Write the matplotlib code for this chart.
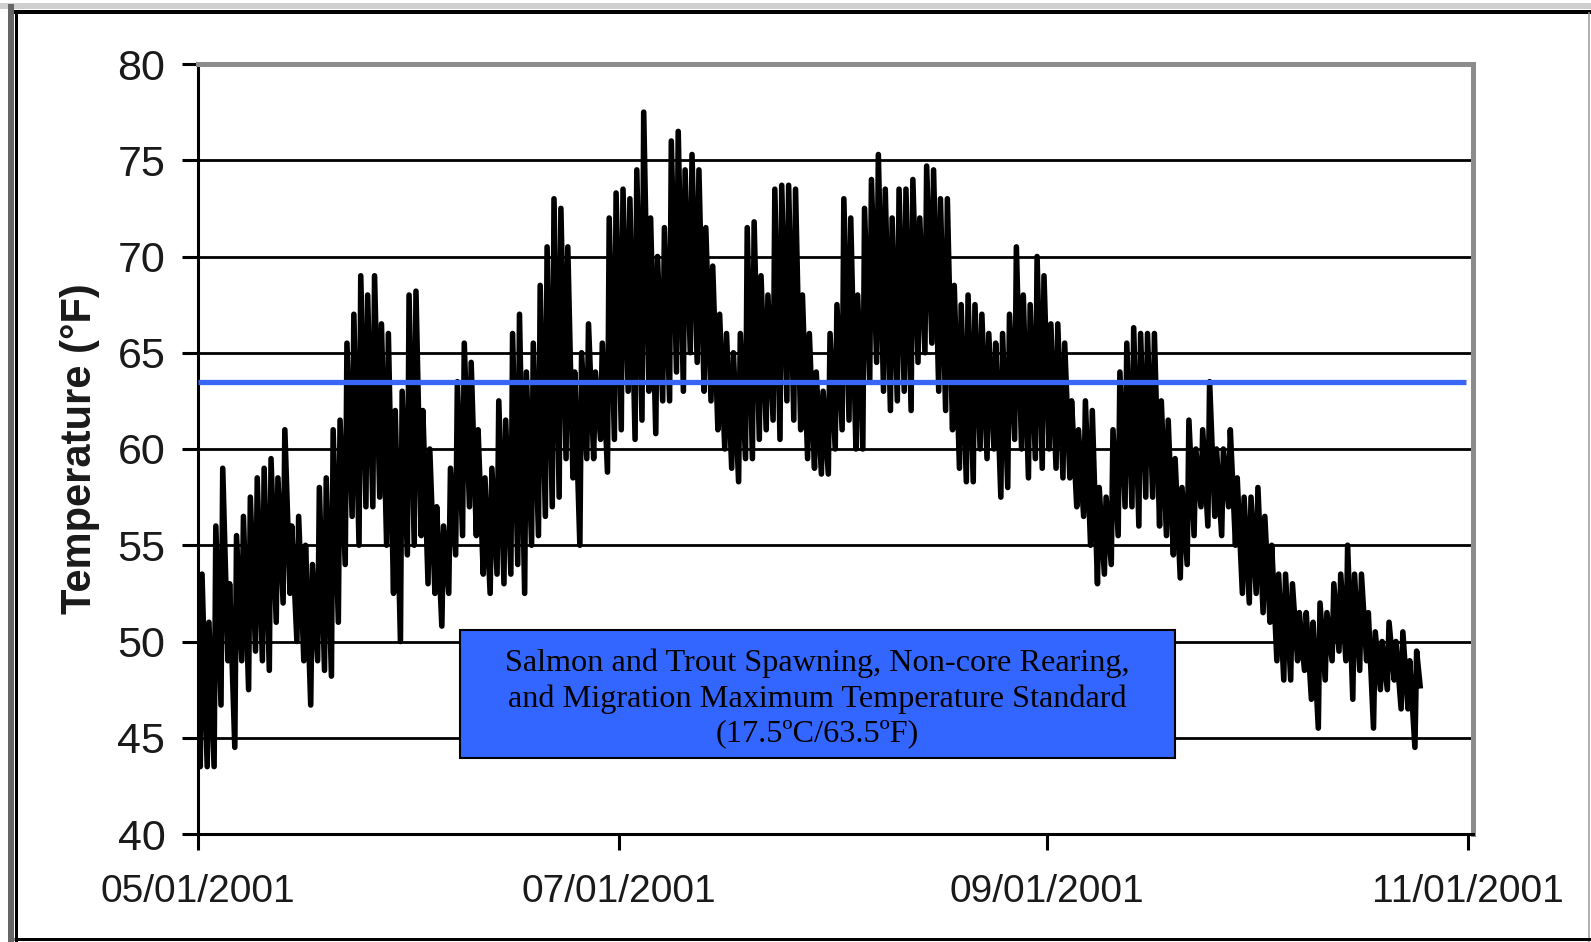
import matplotlib
matplotlib.use("Agg")
import matplotlib.pyplot as plt
import matplotlib.dates as mdates
from matplotlib.patches import Rectangle
import pandas as pd

# daily max / min water temperature (F), 05/01/2001 onward
start_day = "2001-05-01"
first_value = 48.0
last_value = 47.7

daily_max = [
    # May
    53.5, 51.0, 56.0, 59.0, 53.0, 55.5, 56.5, 57.5, 58.5, 59.0,
    59.5, 58.5, 61.0, 56.0, 56.5, 55.0, 54.0, 58.0, 58.5, 61.0,
    61.5, 65.5, 67.0, 69.0, 68.0, 69.0, 66.5, 66.0, 62.0, 63.0, 68.0,
    # June
    68.2, 62.0, 60.0, 57.0, 56.0, 59.0, 63.5, 65.5, 64.5, 61.0,
    58.5, 59.0, 62.5, 61.5, 66.0, 67.0, 64.0, 65.5, 68.5, 70.5,
    73.0, 72.5, 70.5, 64.0, 65.0, 66.5, 64.0, 65.5, 72.0, 73.3,
    # July
    73.5, 73.0, 74.5, 77.5, 72.0, 70.0, 71.5, 76.0, 76.5, 74.5,
    75.3, 74.5, 71.5, 69.5, 67.0, 66.0, 65.0, 66.0, 71.5, 71.8,
    69.0, 68.0, 73.5, 73.7, 73.7, 73.5, 68.0, 66.0, 64.0, 63.0, 66.0,
    # August
    67.5, 73.0, 72.0, 68.0, 72.5, 74.0, 75.3, 73.5, 72.0, 73.5,
    73.5, 74.0, 72.0, 74.7, 74.5, 73.0, 73.0, 68.5, 67.5, 68.0,
    67.5, 67.0, 66.0, 65.5, 66.0, 67.0, 70.5, 68.0, 67.5, 70.0, 69.0,
    # September
    66.5, 66.5, 65.5, 62.5, 61.0, 62.5, 62.0, 58.0, 57.5, 61.0,
    64.0, 65.5, 66.3, 66.0, 66.0, 66.0, 62.5, 61.5, 59.5, 58.0,
    61.5, 60.0, 61.0, 63.5, 60.0, 60.0, 61.0, 58.5, 57.5, 57.5,
    # October
    58.0, 56.5, 55.0, 53.5, 53.5, 53.0, 51.5, 51.5, 51.0, 52.0,
    51.5, 53.0, 53.5, 55.0, 53.5, 53.5, 51.5, 50.5, 50.0, 51.0,
    50.0, 50.5, 49.0, 49.5,
]

daily_min = [
    # May
    43.5, 43.5, 43.5, 46.7, 49.0, 44.5, 49.0, 47.5, 49.5, 49.0,
    48.5, 51.0, 52.0, 52.5, 50.0, 49.0, 46.7, 49.0, 48.5, 48.2,
    51.0, 54.0, 56.5, 55.0, 57.0, 57.0, 57.5, 55.0, 52.5, 50.0, 54.5,
    # June
    55.0, 55.5, 53.0, 52.5, 50.8, 52.5, 54.5, 55.5, 57.0, 55.5,
    53.5, 52.5, 53.5, 53.0, 53.5, 54.0, 52.5, 55.0, 55.5, 56.5,
    57.0, 57.5, 59.5, 58.5, 55.0, 59.5, 59.5, 60.5, 58.8, 60.5,
    # July
    61.0, 63.0, 60.5, 61.5, 63.0, 60.8, 62.5, 62.5, 64.0, 63.0,
    65.0, 64.5, 63.0, 62.5, 61.0, 60.0, 59.0, 58.3, 59.5, 59.5,
    60.5, 61.0, 61.5, 60.5, 62.5, 61.5, 61.0, 59.5, 59.0, 58.7, 58.7,
    # August
    60.0, 61.0, 61.5, 60.0, 60.0, 63.5, 64.5, 63.0, 62.0, 62.5,
    63.0, 62.0, 64.5, 65.0, 65.5, 63.0, 62.0, 61.0, 59.0, 58.3,
    58.3, 60.0, 59.5, 60.0, 57.5, 58.0, 60.5, 60.0, 58.5, 59.5, 59.0,
    # September
    60.0, 59.0, 58.5, 58.5, 57.0, 56.5, 55.0, 53.0, 53.5, 54.0,
    55.5, 57.0, 57.0, 56.0, 57.5, 57.5, 56.0, 55.5, 54.5, 53.3,
    54.0, 55.5, 57.0, 56.0, 56.5, 55.5, 57.0, 55.0, 52.5, 52.0,
    # October
    52.5, 51.5, 51.0, 49.0, 48.0, 48.0, 49.0, 48.5, 47.0, 45.5,
    48.0, 49.0, 49.5, 49.0, 47.0, 48.5, 49.0, 45.5, 47.5, 47.5,
    48.0, 46.5, 46.5, 44.5,
]

standard_f = 63.5
standard_end = "2001-10-31 18:00"
x_ticks = ["2001-05-01", "2001-07-01", "2001-09-01", "2001-11-01"]
y_ticks = [40, 45, 50, 55, 60, 65, 70, 75, 80]
box_text = ("Salmon and Trout Spawning, Non-core Rearing,\n"
            "and Migration Maximum Temperature Standard\n"
            "(17.5\u00baC/63.5\u00baF)")

# zigzag: min in the morning, max mid afternoon
t0 = pd.Timestamp(start_day)
times = [t0]
temps = [first_value]
for d, (hi, lo) in enumerate(zip(daily_max, daily_min)):
    times.append(t0 + pd.Timedelta(days=d, hours=8))
    temps.append(lo)
    times.append(t0 + pd.Timedelta(days=d, hours=14))
    temps.append(hi)
times.append(t0 + pd.Timedelta(days=len(daily_max), hours=2))
temps.append(last_value)

W, H = 1591, 942
fig = plt.figure(figsize=(W / 100, H / 100), dpi=100)
ax = fig.add_axes([198 / W, 1 - 834 / H, (1473 - 198) / W, (834 - 64) / H])

for y in y_ticks[1:-1]:
    ax.axhline(y, color="black", lw=2.0, zorder=1)

ax.plot(times, temps, color="black", lw=4.0, zorder=2)
ax.plot([t0, pd.Timestamp(standard_end)], [standard_f, standard_f],
        color="#3a66f5", lw=3.8, solid_capstyle="butt", zorder=3)

ax.set_ylim(40, 80)
ax.set_xlim(t0, pd.Timestamp("2001-11-01 18:00"))
ax.set_yticks(y_ticks)
ax.set_xticks([pd.Timestamp(t) for t in x_ticks])
ax.xaxis.set_major_formatter(mdates.DateFormatter("%m/%d/%Y"))

for side in ["left", "bottom"]:
    ax.spines[side].set_linewidth(2.2)
    ax.spines[side].set_color("black")
for side in ["top", "right"]:
    ax.spines[side].set_linewidth(3.6)
    ax.spines[side].set_color("#8c8c8c")

ax.tick_params(direction="out", length=11.5, width=2.2, color="black",
               labelcolor="#1a1a1a")
ax.tick_params(axis="y", pad=12, labelsize=31)
ax.tick_params(axis="x", pad=17.5, labelsize=28)
for lab in ax.get_xticklabels() + ax.get_yticklabels():
    lab.set_family("Liberation Sans")

ax.set_ylabel("Temperature (\u00b0F)", fontsize=30, fontweight="bold",
              family="Liberation Sans", color="#1a1a1a")
ax.yaxis.set_label_coords(-0.0765, 0.5)

# standard box
px_per_day = (1468 - 198) / 184
x0n = mdates.date2num(t0 + pd.Timedelta(days=(460 - 198) / px_per_day))
x1n = mdates.date2num(t0 + pd.Timedelta(days=(1175 - 198) / px_per_day))
ax.add_patch(Rectangle((x0n, 43.95), x1n - x0n, 6.65, facecolor="#3366ff",
                       edgecolor="black", lw=1.5, zorder=4))
ax.text((x0n + x1n) / 2, 47.04, box_text, ha="center", va="center",
        fontsize=23.2, family="Liberation Serif", linespacing=1.26, zorder=5)

# outer frame
def px_line(xs, ys, color, lw):
    fig.add_artist(plt.Line2D([x / W for x in xs], [1 - y / H for y in ys],
                              transform=fig.transFigure, color=color,
                              lw=lw * 0.72, solid_capstyle="butt"))

px_line([0, W], [6, 6], "#cfcfcf", 6)
px_line([11, 11], [4, H], "#666666", 6)
px_line([15.5, 15.5], [12, H], "black", 3)
px_line([14, W], [12, 12], "black", 4)
px_line([1589, 1589], [12, H], "#999999", 1.5)
px_line([14, W], [938.5, 938.5], "black", 3)

fig.savefig("out.png", dpi=100)
